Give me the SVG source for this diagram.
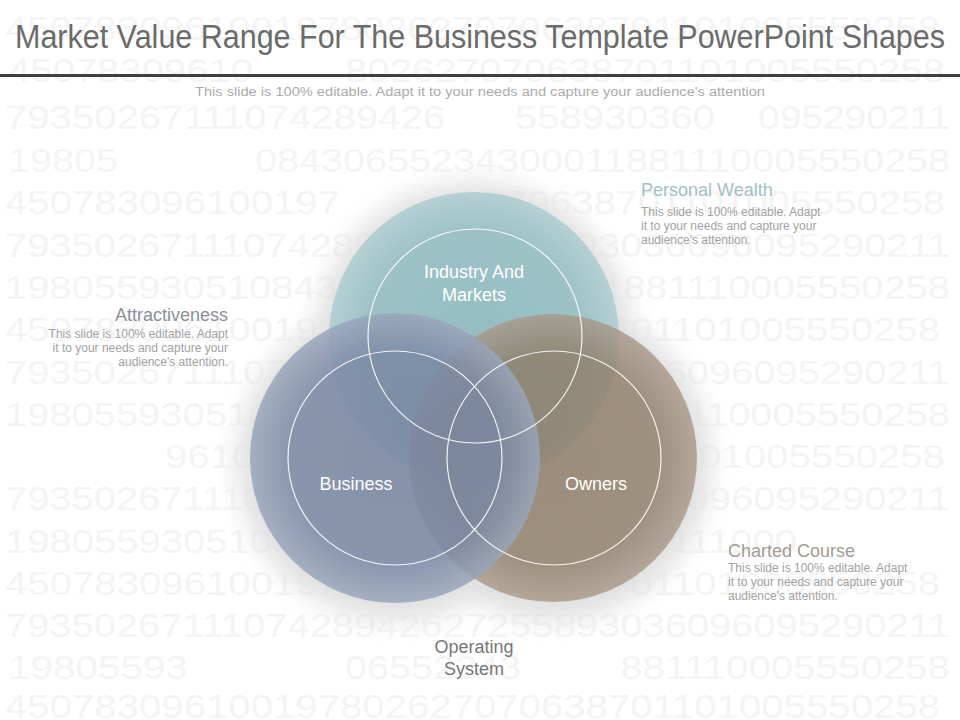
<svg xmlns="http://www.w3.org/2000/svg" width="960" height="720" viewBox="0 0 960 720">
<style>
.bg{font-family:"Liberation Sans",Arial,sans-serif;font-size:33px;fill:#f4f4f4}
.title{font-family:"Liberation Sans",Arial,sans-serif;font-size:33px;fill:#6b6b6b}
.sub{font-family:"Liberation Sans",Arial,sans-serif;font-size:12.5px;fill:#ababab}
.lbl{font-family:"Liberation Sans",Arial,sans-serif;font-size:18px;fill:#ffffff;text-anchor:middle}
.head{font-family:"Liberation Sans",Arial,sans-serif;font-size:18px}
.body{font-family:"Liberation Sans",Arial,sans-serif;font-size:12px;fill:#a2a2a2}
.os{font-family:"Liberation Sans",Arial,sans-serif;font-size:18px;fill:#777777;text-anchor:middle}
.ring{fill:none;stroke:#ffffff;stroke-width:1.2;stroke-opacity:0.9}
</style>
<defs>
<radialGradient id="gTeal" cx="0.5" cy="0.5" r="0.5">
<stop offset="0" stop-color="#95bdc2"/><stop offset="0.72" stop-color="#9cc2c6"/><stop offset="1" stop-color="#b5d0d3"/>
</radialGradient>
<radialGradient id="gBlue" cx="0.5" cy="0.5" r="0.5">
<stop offset="0" stop-color="#7684a0"/><stop offset="0.72" stop-color="#7a88a4"/><stop offset="1" stop-color="#9aa6bb"/>
</radialGradient>
<radialGradient id="gBrown" cx="0.5" cy="0.5" r="0.5">
<stop offset="0" stop-color="#8a7862"/><stop offset="0.72" stop-color="#8e7c66"/><stop offset="1" stop-color="#a89888"/>
</radialGradient>
<filter id="halo" x="-30%" y="-30%" width="160%" height="160%">
<feGaussianBlur stdDeviation="12"/>
</filter>
</defs>
<rect x="0" y="0" width="960" height="720" fill="#ffffff"/>
<g id="background-digits">
<text class="bg" x="5" y="40" textLength="935" lengthAdjust="spacingAndGlyphs">450783096100197802627070638701101005550258</text>
<text class="bg" x="8" y="82" textLength="245" lengthAdjust="spacingAndGlyphs">45078309610</text>
<text class="bg" x="345" y="82" textLength="600" lengthAdjust="spacingAndGlyphs">802627070638701101005550258</text>
<text class="bg" x="5" y="129" textLength="440" lengthAdjust="spacingAndGlyphs">79350267111074289426</text>
<text class="bg" x="515" y="129" textLength="200" lengthAdjust="spacingAndGlyphs">558930360</text>
<text class="bg" x="758" y="129" textLength="192" lengthAdjust="spacingAndGlyphs">095290211</text>
<text class="bg" x="8" y="172" textLength="110" lengthAdjust="spacingAndGlyphs">19805</text>
<text class="bg" x="255" y="172" textLength="695" lengthAdjust="spacingAndGlyphs">08430655234300011881110005550258</text>
<text class="bg" x="5" y="214" textLength="335" lengthAdjust="spacingAndGlyphs">450783096100197</text>
<text class="bg" x="483" y="214" textLength="462" lengthAdjust="spacingAndGlyphs">070638701101005550258</text>
<text class="bg" x="5" y="257" textLength="945" lengthAdjust="spacingAndGlyphs">7935026711107428942627255893036096095290211</text>
<text class="bg" x="5" y="299" textLength="945" lengthAdjust="spacingAndGlyphs">1980559305108430655234300011881110005550258</text>
<text class="bg" x="5" y="341" textLength="935" lengthAdjust="spacingAndGlyphs">450783096100197802627070638701101005550258</text>
<text class="bg" x="5" y="384" textLength="945" lengthAdjust="spacingAndGlyphs">7935026711107428942627255893036096095290211</text>
<text class="bg" x="5" y="426" textLength="945" lengthAdjust="spacingAndGlyphs">1980559305108430655234300011881110005550258</text>
<text class="bg" x="165" y="468" textLength="780" lengthAdjust="spacingAndGlyphs">96100197802627070638701101005550258</text>
<text class="bg" x="5" y="510" textLength="945" lengthAdjust="spacingAndGlyphs">7935026711107428942627255893036096095290211</text>
<text class="bg" x="5" y="553" textLength="792" lengthAdjust="spacingAndGlyphs">198055930510843065523430001188111000</text>
<text class="bg" x="5" y="595" textLength="935" lengthAdjust="spacingAndGlyphs">450783096100197802627070638701101005550258</text>
<text class="bg" x="5" y="637" textLength="945" lengthAdjust="spacingAndGlyphs">7935026711107428942627255893036096095290211</text>
<text class="bg" x="8" y="679" textLength="180" lengthAdjust="spacingAndGlyphs">19805593</text>
<text class="bg" x="345" y="679" textLength="176" lengthAdjust="spacingAndGlyphs">06552343</text>
<text class="bg" x="620" y="679" textLength="330" lengthAdjust="spacingAndGlyphs">881110005550258</text>
<text class="bg" x="5" y="718" textLength="935" lengthAdjust="spacingAndGlyphs">450783096100197802627070638701101005550258</text>
</g>
<g id="header">
<text class="title" x="15" y="48" textLength="930" lengthAdjust="spacingAndGlyphs">Market Value Range For The Business Template PowerPoint Shapes</text>
<rect x="0" y="74" width="960" height="3" fill="#3f3f3f"/>
<text class="sub" x="195" y="96" textLength="570" lengthAdjust="spacingAndGlyphs">This slide is 100% editable. Adapt it to your needs and capture your audience's attention</text>
</g>
<g id="halo-shadow" filter="url(#halo)" fill="#e0e0e0">
<circle cx="474" cy="340" r="158"/>
<circle cx="395" cy="462" r="158"/>
<circle cx="553" cy="462" r="158"/>
</g>
<g id="connectors"/>
<g id="node-industry">
<circle cx="474" cy="337" r="145" fill="url(#gTeal)"/>
</g>
<g id="node-owners">
<circle cx="553" cy="458" r="144" fill="url(#gBrown)" fill-opacity="0.8"/>
</g>
<g id="node-business">
<circle cx="395" cy="458" r="145" fill="url(#gBlue)" fill-opacity="0.85"/>
</g>
<g id="rings">
<circle class="ring" cx="475" cy="336" r="107"/>
<circle class="ring" cx="395" cy="458" r="107"/>
<circle class="ring" cx="554" cy="458" r="107"/>
</g>
<g id="labels">
<text class="lbl" x="474" y="278">Industry And</text>
<text class="lbl" x="474" y="301">Markets</text>
<text class="lbl" x="356" y="490">Business</text>
<text class="lbl" x="596" y="490">Owners</text>
</g>
<g id="personal-wealth">
<text class="head" x="641" y="196" fill="#9fc2c6">Personal Wealth</text>
<text class="body" x="641" y="216">This slide is 100% editable. Adapt</text>
<text class="body" x="641" y="230">it to your needs and capture your</text>
<text class="body" x="641" y="244">audience's attention.</text>
</g>
<g id="attractiveness">
<text class="head" x="228" y="321" fill="#8a8f9e" text-anchor="end">Attractiveness</text>
<text class="body" x="228" y="338" text-anchor="end">This slide is 100% editable. Adapt</text>
<text class="body" x="228" y="352" text-anchor="end">it to your needs and capture your</text>
<text class="body" x="228" y="366" text-anchor="end">audience's attention.</text>
</g>
<g id="charted-course">
<text class="head" x="728" y="557" fill="#a39c93">Charted Course</text>
<text class="body" x="728" y="572">This slide is 100% editable. Adapt</text>
<text class="body" x="728" y="586">it to your needs and capture your</text>
<text class="body" x="728" y="600">audience's attention.</text>
</g>
<g id="operating-system">
<text class="os" x="474" y="653">Operating</text>
<text class="os" x="474" y="675">System</text>
</g>
</svg>
